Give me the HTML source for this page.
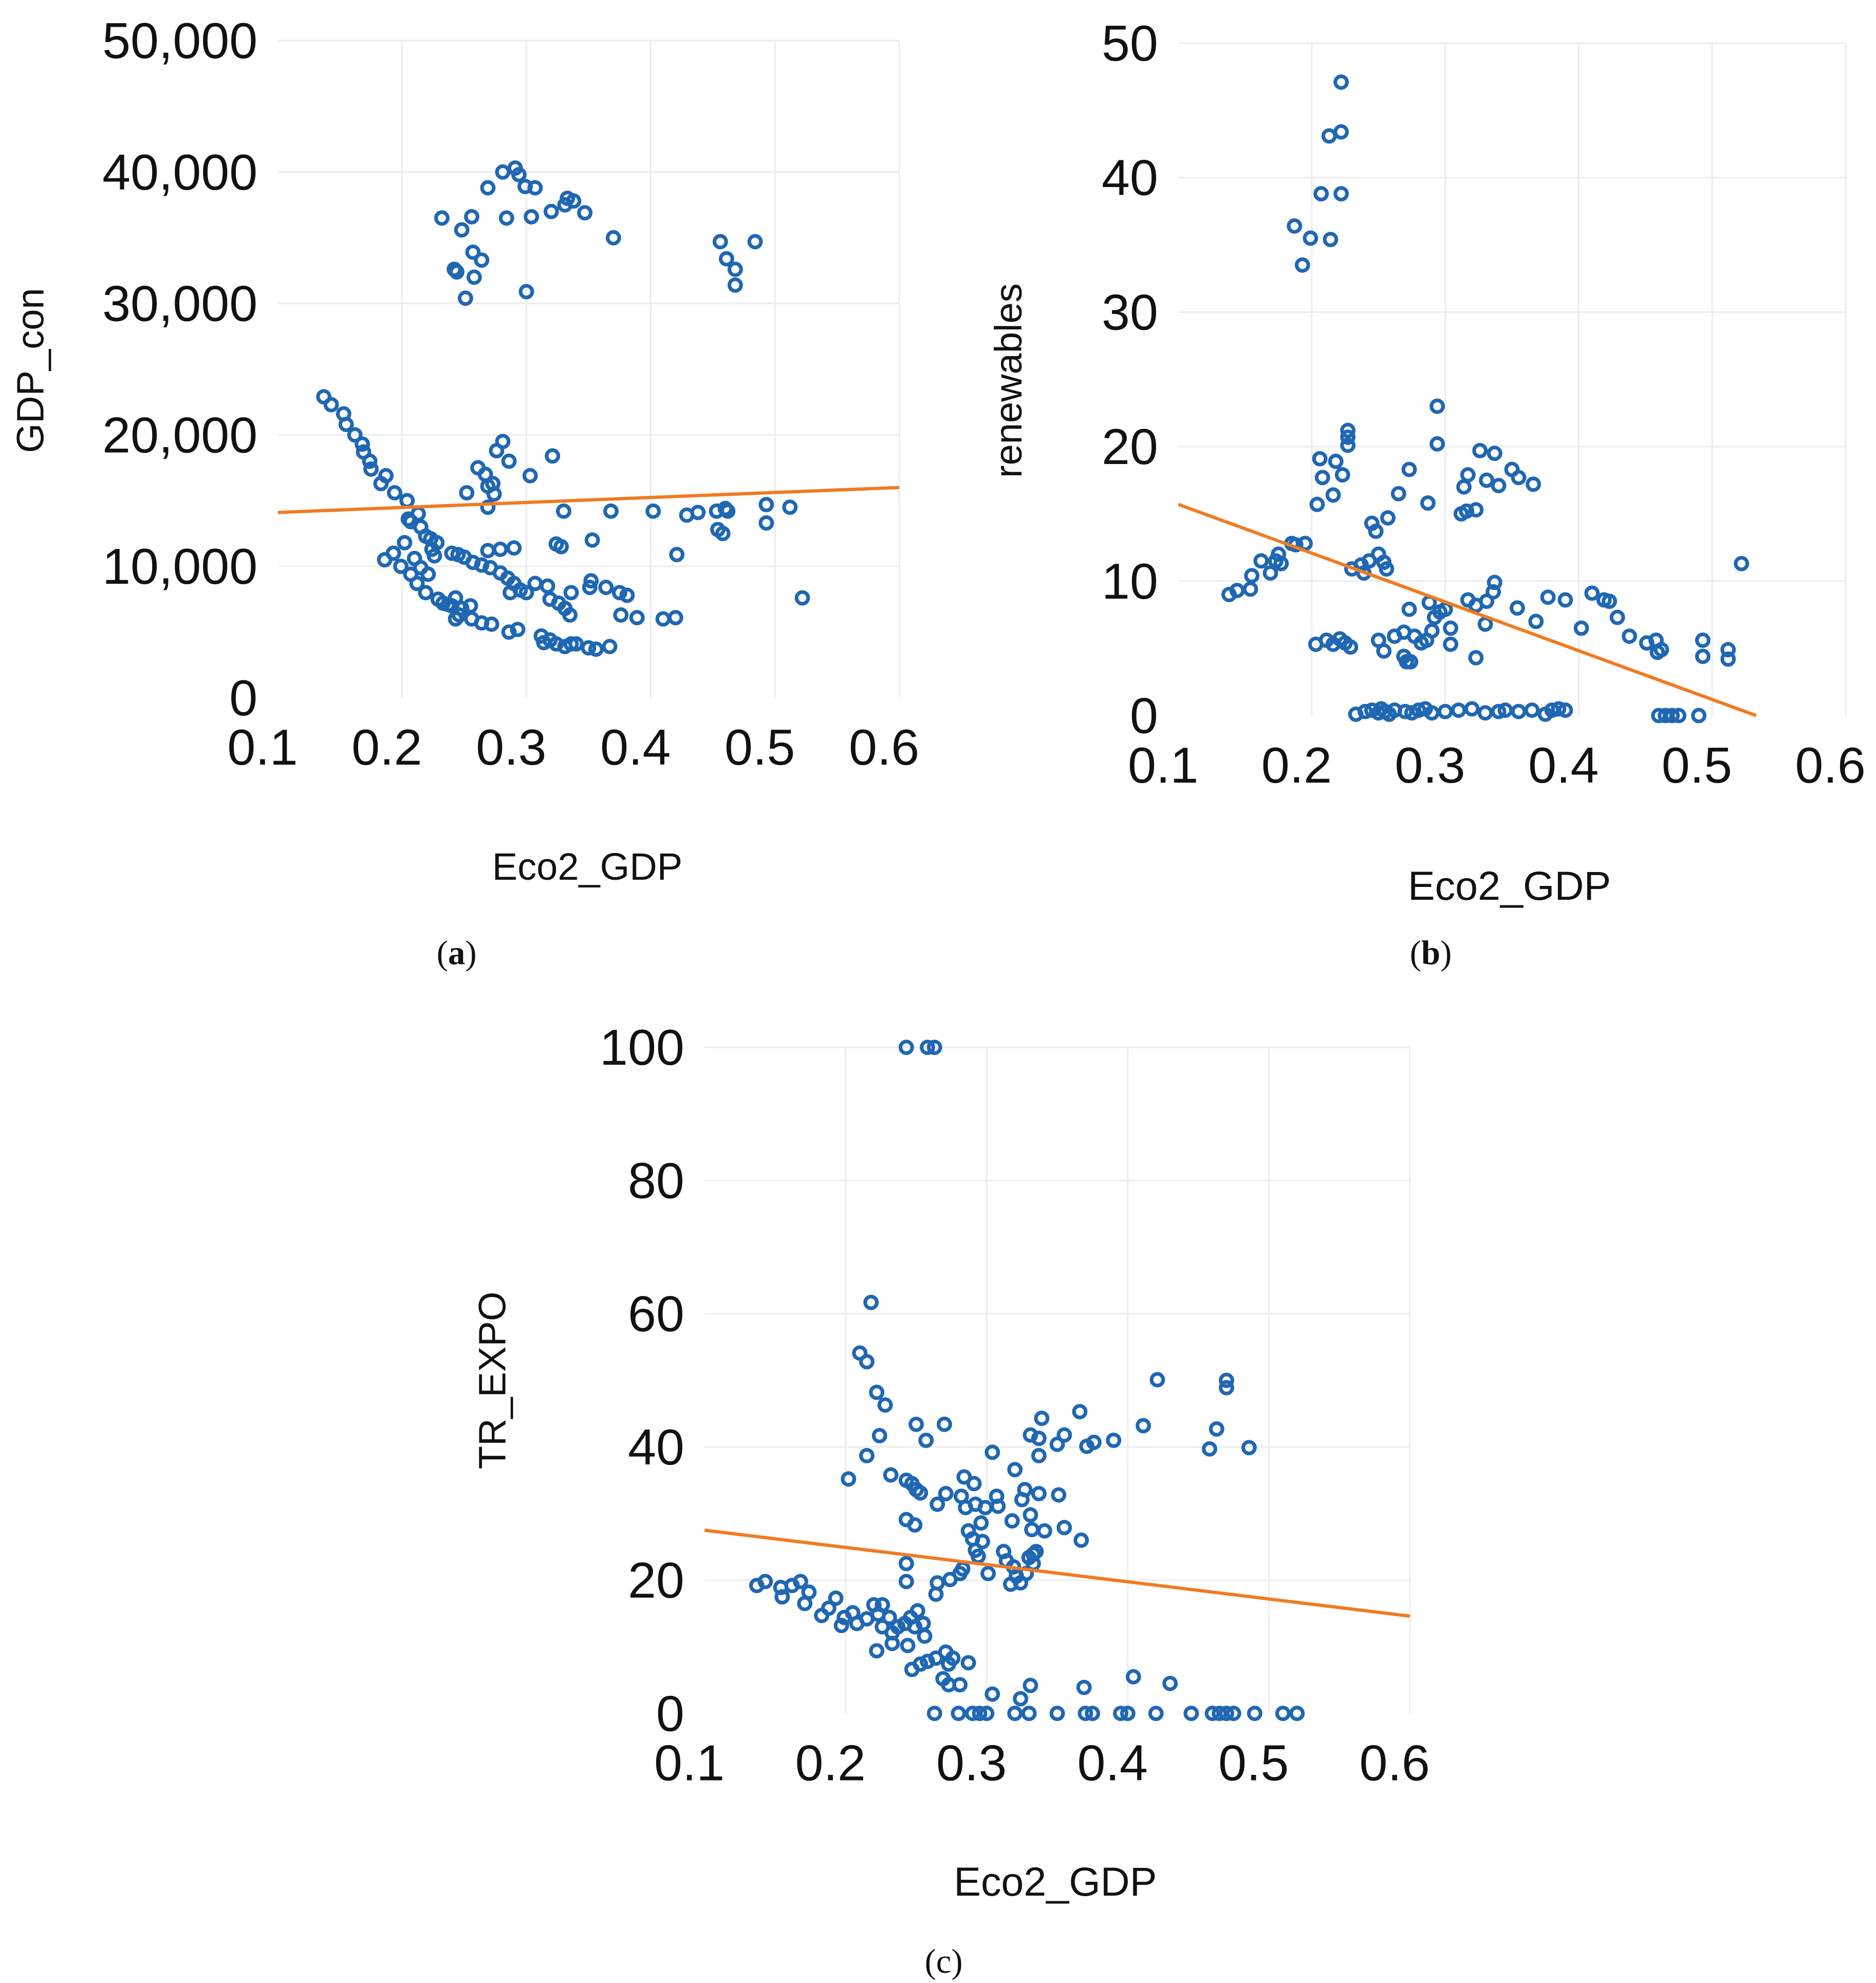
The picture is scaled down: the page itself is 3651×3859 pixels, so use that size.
<!DOCTYPE html>
<html><head><meta charset="utf-8">
<style>
html,body{margin:0;padding:0;background:#fff;}
svg{display:block;}
text{font-family:"Liberation Sans",sans-serif;fill:#111;}
.cap{font-family:"Liberation Serif",serif;}
</style></head>
<body>
<svg id="chart" width="3651" height="3859" viewBox="0 0 1479 1563" preserveAspectRatio="none" xmlns="http://www.w3.org/2000/svg">
<text class="cap" x="360" y="760" font-size="27" text-anchor="middle">(<tspan font-weight="bold">a</tspan>)</text>
<text class="cap" x="1128" y="760" font-size="27" text-anchor="middle">(<tspan font-weight="bold">b</tspan>)</text>
<text class="cap" x="744" y="1555" font-size="27" text-anchor="middle">(c)</text>
</svg>
<script>
// Panel (a) data: Eco2_GDP vs GDP_con
const aX = [.232,.242,.244,.248,.251,.256,.257,.258,.264,.269,.281,.284,.291,.294,.299,.300,.304,.307,.320,.331,.333,.338,.347,.370,.456,.461,.468,.468,.484,
.137,.143,.153,.155,.162,.168,.169,.174,.175,.183,.187,.194,.204,.205,.207,.213,.215,.219,.223,.224,.228,.226,
.186,.193,.199,.202,.207,.21,.212,.215,.219,.221,.229,.233,.237,.240,.243,.243,.246,.248,.255,.256,.264,.272,.286,.293,.312,.314,.319,.324,.331,.336,.340,.350,.356,.367,
.240,.245,.250,.257,.264,.271,.279,.285,.287,.290,.295,.3,.307,.317,.319,.326,.331,.335,.336,.351,.352,.364,.375,.381,.376,.389,.41,.42,.522,
.252,.261,.267,.269,.273,.274,.269,.276,.281,.286,.303,.321,.269,.279,.290,.324,.328,.330,.353,.368,.402,.421,.429,.438,.453,.460,.462,.454,.458,.493,.493,.512];
const aY = [36500,32600,32400,35600,30400,36600,33900,32000,33300,38800,40000,36500,40300,39800,38900,30900,36600,38800,37000,37500,38000,37800,36900,35000,34700,33400,32600,31400,34700,
22900,22300,21600,20800,20000,19300,18700,18000,17400,16300,16900,15600,15000,13600,13400,14000,13000,12300,12100,11300,11800,10800,
10500,11000,10000,11800,9400,10600,8700,9900,8000,9400,7500,7200,7100,7000,7600,6000,6300,6800,7000,6000,5700,5600,5000,5200,4700,4200,4400,4100,3900,4100,4100,3800,3700,3900,
11000,10900,10700,10300,10100,9900,9500,9100,8000,8700,8200,8000,8700,8500,7500,7200,6800,6300,8000,8400,8900,8400,8000,7800,6300,6100,6000,6100,7600,
15600,17500,17000,16100,16300,15500,14500,18800,19500,18000,16900,18400,11200,11300,11400,11700,11500,14200,12000,14200,14200,10900,13900,14100,14200,14400,14200,12800,12500,14700,13300,14500];
const aTrendX = [0.1, 0.6];
const aTrendY = [14100, 16000];
const aYTicks = ["0","10,000","20,000","30,000","40,000","50,000"];
const aYTickVals = [0,10000,20000,30000,40000,50000];

// Panel (b) data: Eco2_GDP vs renewables
const bX = [.222,.213,.222,.207,.222,.187,.199,.214,.193,
.206,.218,.208,.223,.216,.204,.227,.227,.227,.294,.294,.287,.273,.265,.257,.245,.248,.314,.317,.326,.337,.331,.340,.350,.355,.366,.312,.316,.323,
.138,.144,.154,.155,.162,.169,.173,.175,.177,.185,.188,.195,.230,.239,.243,.250,.254,.256,.237,
.203,.211,.216,.221,.225,.229,.25,.254,.262,.269,.271,.274,.269,.277,.282,.286,.290,.273,.288,.292,.296,.3,.304,.304,.323,.317,.323,.330,.331,.336,.337,.354,.368,.377,.39,.402,.41,.419,.423,.429,.438,.451,.458,.459,.462,.493,.493,.512,.512,.522,
.233,.24,.245,.25,.252,.255,.258,.262,.27,.275,.28,.285,.29,.3,.31,.32,.33,.34,.345,.355,.365,.375,.38,.385,.39,.46,.465,.47,.475,.49];
const bY = [47.1,43.1,43.4,38.8,38.8,36.4,35.5,35.4,33.5,
19.1,18.9,17.7,17.9,16.4,15.7,21.2,20.7,20.1,23.0,20.2,15.8,18.3,16.5,14.7,14.3,13.7,17.0,17.9,19.7,19.5,17.5,17.1,18.3,17.7,17.2,15.0,15.2,15.3,
9.0,9.3,9.4,10.4,11.5,10.6,11.5,12.0,11.3,12.8,12.7,12.8,10.9,10.6,11.5,12.0,11.4,10.9,11.2,
5.3,5.6,5.3,5.7,5.4,5.1,5.6,4.8,5.9,4.4,4.0,4.0,6.2,5.9,5.4,5.6,6.3,7.9,8.4,7.3,7.7,7.9,6.5,5.3,4.3,8.6,8.2,6.8,8.5,9.2,9.9,8.0,7.0,8.8,8.6,6.5,9.1,8.6,8.5,7.3,5.9,5.4,5.6,4.7,4.9,5.6,4.4,4.9,4.2,11.3,
0.1,0.3,0.4,0.2,0.5,0.3,0.1,0.4,0.3,0.2,0.4,0.5,0.2,0.3,0.4,0.5,0.2,0.3,0.4,0.3,0.4,0.1,0.4,0.5,0.4,0,0,0,0,0];
const bTrendX = [0.1, 0.533];
const bTrendY = [15.7, 0];
const bYTicks = ["0","10","20","30","40","50"];
const bYTickVals = [0,10,20,30,40,50];

// Panel (c) data: Eco2_GDP vs TR_EXPO
const cX = [.243,.258,.263,
.218,.210,.215,.222,.228,.224,.215,.202,.232,.243,.247,.25,.253,.25,.257,.27,.243,.249,.265,.271,.284,.291,.282,.285,.292,.299,.307,.308,.287,.290,.296,.297,.292,.294,.304,.320,.318,.325,.327,.337,.351,.331,.332,.341,.355,.367,.312,.314,.319,.321,.317,.324,.328,.333,.333,.335,.330,.301,.283,.281,.274,.265,.264,.243,.243,
.331,.337,.339,.337,.35,.355,.366,.371,.376,.390,.411,.421,.458,.463,.470,.470,.486,
.137,.143,.154,.155,.162,.168,.171,.174,.183,.193,.188,.197,.199,.205,.208,.215,.220,.226,.223,.226,.231,.233,.237,.242,.246,.249,.251,.255,.244,.233,.222,.256,.247,.253,.258,.264,.271,.273,.276,.269,.273,.281,.287,.304,.324,.331,.369,.404,.430,
.263,.28,.29,.295,.30,.32,.33,.35,.37,.375,.395,.40,.42,.445,.46,.465,.47,.475,.49,.51,.52];
const cY = [100,100,100,
61.7,54.1,52.8,48.2,46.3,41.7,38.7,35.2,35.8,35.0,34.5,33.6,33.1,43.4,41.0,43.4,29.1,28.3,31.4,33.0,35.5,34.5,32.6,30.9,31.4,30.9,32.6,31.1,27.4,26.2,28.6,25.8,24.5,23.6,39.2,36.6,28.9,32.1,33.6,33.0,32.8,29.8,27.6,27.4,27.9,26.0,24.3,22.9,22.0,20.6,19.4,19.6,21.0,22.5,23.9,24.3,23.4,21.0,21.7,21.0,20.1,19.6,17.9,22.5,19.8,
41.8,41.3,44.3,38.7,40.4,41.8,45.3,40.1,40.7,41.0,43.2,50.1,39.7,42.7,50.0,48.9,39.9,
19.2,19.8,18.9,17.5,19.2,19.8,16.5,18.2,14.7,17.3,15.8,13.2,14.4,15.1,13.5,14.2,16.3,16.3,14.9,13.0,14.4,12.1,13.0,13.5,14.4,13.0,15.4,13.5,10.2,10.5,9.4,11.6,6.6,7.4,7.8,8.3,9.2,7.4,8.3,5.2,4.3,4.3,7.6,2.9,2.2,4.2,3.9,5.5,4.5,
0,0,0,0,0,0,0,0,0,0,0,0,0,0,0,0,0,0,0,0,0];
const cTrendX = [0.1, 0.6];
const cTrendY = [27.5, 14.6];
const cYTicks = ["0","20","40","60","80","100"];
const cYTickVals = [0,20,40,60,80,100];

const xTicks = ["0.1","0.2","0.3","0.4","0.5","0.6"];
const xTickVals = [0.1,0.2,0.3,0.4,0.5,0.6];

const NS = "http://www.w3.org/2000/svg";
const svg = document.getElementById('chart');
function mk(tag, attrs, parent){
  const e = document.createElementNS(NS, tag);
  for (const k in attrs) e.setAttribute(k, attrs[k]);
  (parent||svg).appendChild(e);
  return e;
}

function panel(id, L, R, T, B, ymax, xs, ys, tx, ty, yt, ytv, ytitle, ytx, yty, xtx, xty, xtsize){
  const g = mk('g', {});
  
  
  const sx = v => L + (v - 0.1) / 0.5 * (R - L);
  const sy = v => B - v / ymax * (B - T);
  ytv.forEach((v, i) => {
    if (v > 0) {
      const l = mk('line', {x1: L, x2: R, y1: sy(v), y2: sy(v), stroke: '#ececec', 'stroke-width': 1.2}, g);
      
      
    }
    const t = mk('text', {x: L - 16, y: sy(v), 'font-size': 40, 'text-anchor': 'end', 'dominant-baseline': 'central'}, g);
    t.textContent = yt[i];
    
    
  });
  xTickVals.forEach((v, i) => {
    if (v > 0.1) {
      const l = mk('line', {x1: sx(v), x2: sx(v), y1: T, y2: B, stroke: '#ececec', 'stroke-width': 1.2}, g);
      
      
    }
    const t = mk('text', {x: sx(v) - 12, y: B + 39, 'font-size': 40, 'text-anchor': 'middle', 'dominant-baseline': 'central'}, g);
    t.textContent = xTicks[i];
    
    
  });
  xs.forEach((x, i) => {
    const c = mk('circle', {cx: sx(x), cy: sy(ys[i]), r: 4.6, fill: 'none', stroke: '#1f67b3', 'stroke-width': 2.9}, g);
    
    
  });
  const tl = mk('line', {x1: sx(tx[0]), y1: sy(ty[0]), x2: sx(tx[1]), y2: sy(ty[1]), stroke: '#f07b22', 'stroke-width': 2.6}, g);
  
  
  const yt2 = mk('text', {x: ytx, y: yty, 'font-size': 30, 'text-anchor': 'middle', 'dominant-baseline': 'central', transform: 'rotate(-90 ' + ytx + ' ' + yty + ')'}, g);
  yt2.textContent = ytitle;
  
  
  const xt = mk('text', {x: xtx, y: xty, 'font-size': xtsize, 'text-anchor': 'middle', 'dominant-baseline': 'central'}, g);
  xt.textContent = 'Eco2_GDP';
  
  
}

panel('a', 219, 709, 32, 550, 50000, aX, aY, aTrendX, aTrendY, aYTicks, aYTickVals, 'GDP_con', 24, 292, 463, 683, 30);
panel('b', 929, 1455, 34, 564, 50, bX, bY, bTrendX, bTrendY, bYTicks, bYTickVals, 'renewables', 795, 300, 1190, 698, 32);
panel('c', 555.5, 1111.5, 825.5, 1350.5, 100, cX, cY, cTrendX, cTrendY, cYTicks, cYTickVals, 'TR_EXPO', 388, 1088, 832, 1483, 32);
</script>
</body></html>
